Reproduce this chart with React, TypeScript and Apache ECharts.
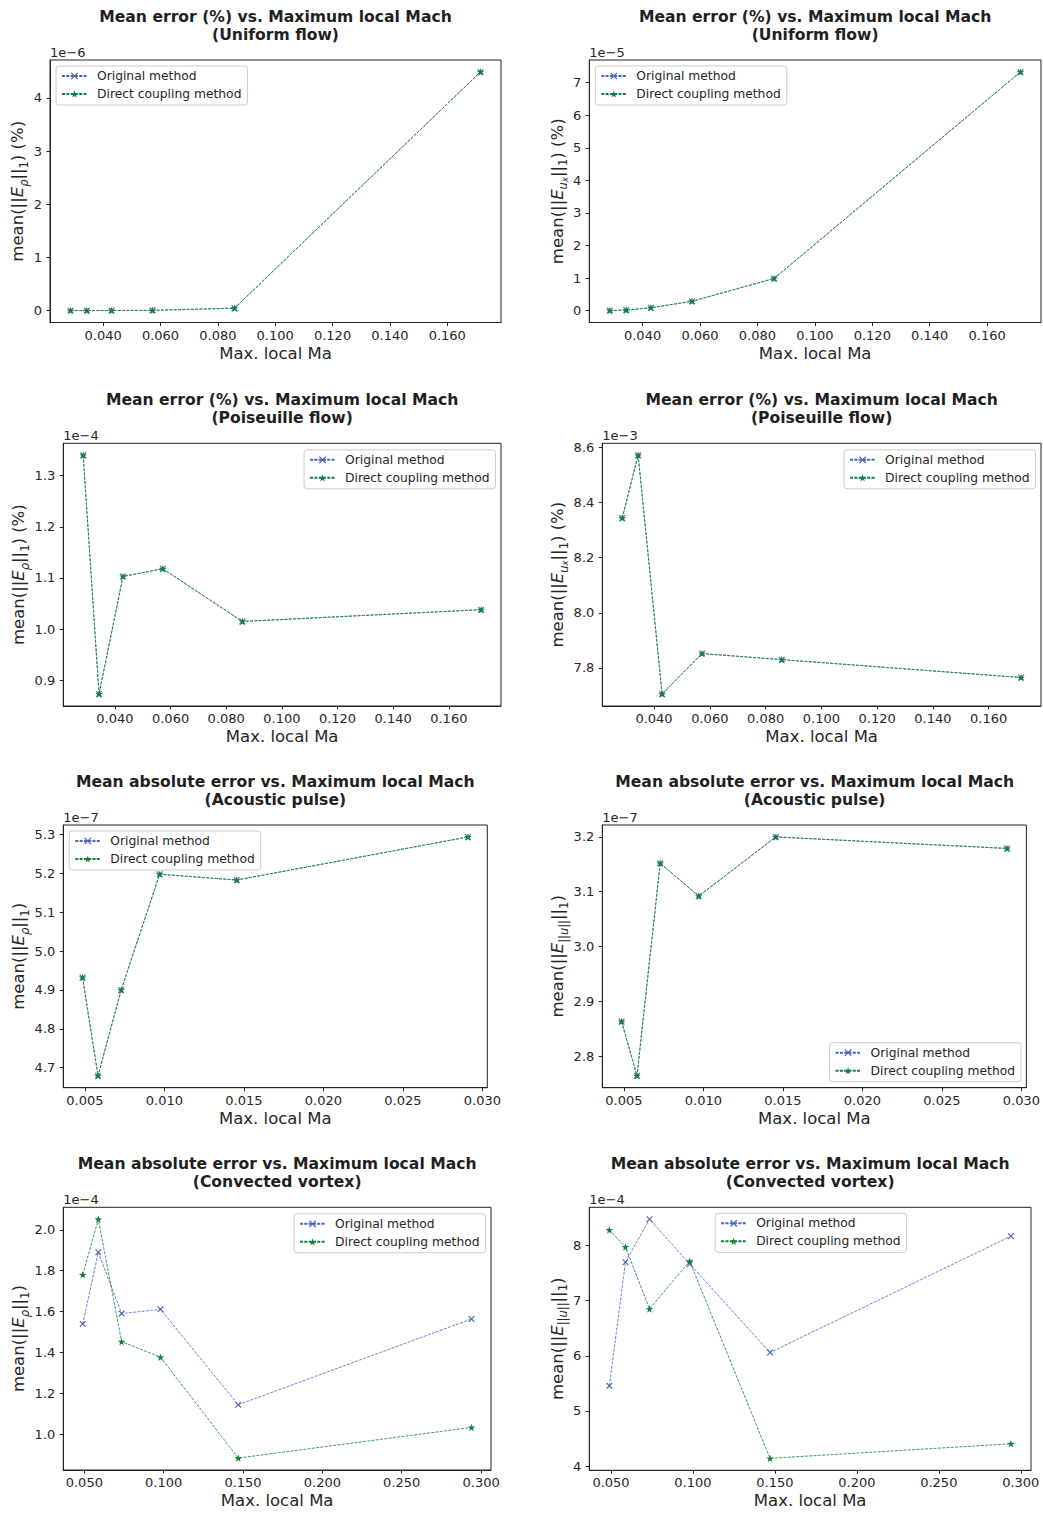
import React, { useEffect, useRef } from "react";
import * as echarts from "echarts";

const W = 1043;
const H = 1513;
const FONT = "DejaVu Sans";
const TEXT = "#262626";
const BLUE = "#4565c0";
const GREEN = "#10803c";

// Maximum local Mach number of every run
const machUniform = [0.0286, 0.0343, 0.0429, 0.0572, 0.0858, 0.1716];
const machPoiseuille = [0.0286, 0.0343, 0.0429, 0.0572, 0.0858, 0.1716];
const machAcoustic = [0.00485, 0.00582, 0.00728, 0.0097, 0.01455, 0.0291];
const machVortex = [0.049, 0.0588, 0.0735, 0.098, 0.147, 0.294];

// Mean errors, stored as mantissas of the axis offset (1e<exponent>)
const uniformRhoOriginal = [0.0002, 0.0005, 0.0012, 0.004, 0.045, 4.49];
const uniformRhoDirect = [0.0002, 0.0005, 0.0012, 0.004, 0.045, 4.49];
const uniformUxOriginal = [0.005, 0.02, 0.09, 0.29, 0.99, 7.33];
const uniformUxDirect = [0.005, 0.02, 0.09, 0.29, 0.99, 7.33];
const poiseuilleRhoOriginal = [1.34, 0.873, 1.103, 1.118, 1.015, 1.038];
const poiseuilleRhoDirect = [1.34, 0.873, 1.103, 1.118, 1.015, 1.038];
const poiseuilleUxOriginal = [8.344, 8.572, 7.705, 7.852, 7.83, 7.765];
const poiseuilleUxDirect = [8.344, 8.572, 7.705, 7.852, 7.83, 7.765];
const acousticRhoOriginal = [4.932, 4.679, 4.9, 5.198, 5.183, 5.294];
const acousticRhoDirect = [4.932, 4.679, 4.9, 5.198, 5.183, 5.294];
const acousticUOriginal = [2.863, 2.764, 3.152, 3.092, 3.2, 3.179];
const acousticUDirect = [2.863, 2.764, 3.152, 3.092, 3.2, 3.179];
const vortexRhoOriginal = [1.539, 1.89, 1.59, 1.611, 1.144, 1.564];
const vortexRhoDirect = [1.78, 2.052, 1.453, 1.377, 0.883, 1.033];
const vortexUOriginal = [5.455, 7.697, 8.477, 7.667, 6.06, 8.169];
const vortexUDirect = [8.283, 7.975, 6.851, 7.715, 4.14, 4.404];

// Tick labels
const machTicksLow = [0.04, 0.06, 0.08, 0.1, 0.12, 0.14, 0.16];
const machTicksAcoustic = [0.005, 0.01, 0.015, 0.02, 0.025, 0.03];
const machTicksVortex = [0.05, 0.1, 0.15, 0.2, 0.25, 0.3];
const uniformRhoTicks = [0, 1, 2, 3, 4];
const uniformUxTicks = [0, 1, 2, 3, 4, 5, 6, 7];
const poiseuilleRhoTicks = [0.9, 1.0, 1.1, 1.2, 1.3];
const poiseuilleUxTicks = [7.8, 8.0, 8.2, 8.4, 8.6];
const acousticRhoTicks = [4.7, 4.8, 4.9, 5.0, 5.1, 5.2, 5.3];
const acousticUTicks = [2.8, 2.9, 3.0, 3.1, 3.2];
const vortexRhoTicks = [1.0, 1.2, 1.4, 1.6, 1.8, 2.0];
const vortexUTicks = [4, 5, 6, 7, 8];

const seriesNames = ["Original method", "Direct coupling method"];

const TITLE_PCT = "Mean error (%) vs. Maximum local Mach";
const TITLE_ABS = "Mean absolute error vs. Maximum local Mach";

// y-axis labels as rich text (mathtext-like subscripts)
const NAME_RHO_PCT = "{n|mean(||}{e|E}{si|ρ}{n|||}{s|1}{n|) (%)}";
const NAME_UX_PCT = "{n|mean(||}{e|E}{si|u}{ss|x}{n|||}{s|1}{n|) (%)}";
const NAME_RHO = "{n|mean(||}{e|E}{si|ρ}{n|||}{s|1}{n|)}";
const NAME_U = "{n|mean(||}{e|E}{s|||}{si|u}{s|||}{n|||}{s|1}{n|)}";

const X_PATH =
  "path://M1.2,0 L5,3.8 L8.8,0 L10,1.2 L6.2,5 L10,8.8 L8.8,10 L5,6.2 L1.2,10 L0,8.8 L3.8,5 L0,1.2 Z";
const STAR_PATH =
  "path://M5,0 L6.18,3.38 L9.76,3.45 L6.9,5.62 L7.94,9.05 L5,7 L2.06,9.05 L3.1,5.62 L0.24,3.45 L3.82,3.38 Z";

type Panel = {
  title: string;
  sub: string;
  mach: number[];
  original: number[];
  direct: number[];
  exponent: number;
  yName: string;
  yTicks: number[];
  yDigits: number;
  xTicks: number[];
  xDigits: number;
  grid: [number, number, number, number];
  legend: "ul" | "ur" | "lr" | "uc";
  col: 0 | 1;
};

const panels: Panel[] = [
  { title: TITLE_PCT, sub: "(Uniform flow)", mach: machUniform, original: uniformRhoOriginal, direct: uniformRhoDirect, exponent: -6, yName: NAME_RHO_PCT, yTicks: uniformRhoTicks, yDigits: 0, xTicks: machTicksLow, xDigits: 3, grid: [50, 60, 451, 262.5], legend: "ul", col: 0 },
  { title: TITLE_PCT, sub: "(Uniform flow)", mach: machUniform, original: uniformUxOriginal, direct: uniformUxDirect, exponent: -5, yName: NAME_UX_PCT, yTicks: uniformUxTicks, yDigits: 0, xTicks: machTicksLow, xDigits: 3, grid: [589.3, 60, 451.7, 262.5], legend: "ul", col: 1 },
  { title: TITLE_PCT, sub: "(Poiseuille flow)", mach: machPoiseuille, original: poiseuilleRhoOriginal, direct: poiseuilleRhoDirect, exponent: -4, yName: NAME_RHO_PCT, yTicks: poiseuilleRhoTicks, yDigits: 1, xTicks: machTicksLow, xDigits: 3, grid: [63.3, 443.3, 437.7, 262.7], legend: "ur", col: 0 },
  { title: TITLE_PCT, sub: "(Poiseuille flow)", mach: machPoiseuille, original: poiseuilleUxOriginal, direct: poiseuilleUxDirect, exponent: -3, yName: NAME_UX_PCT, yTicks: poiseuilleUxTicks, yDigits: 1, xTicks: machTicksLow, xDigits: 3, grid: [602.3, 443.3, 438.7, 262.7], legend: "ur", col: 1 },
  { title: TITLE_ABS, sub: "(Acoustic pulse)", mach: machAcoustic, original: acousticRhoOriginal, direct: acousticRhoDirect, exponent: -7, yName: NAME_RHO, yTicks: acousticRhoTicks, yDigits: 1, xTicks: machTicksAcoustic, xDigits: 3, grid: [63.3, 825, 424, 262.7], legend: "ul", col: 0 },
  { title: TITLE_ABS, sub: "(Acoustic pulse)", mach: machAcoustic, original: acousticUOriginal, direct: acousticUDirect, exponent: -7, yName: NAME_U, yTicks: acousticUTicks, yDigits: 1, xTicks: machTicksAcoustic, xDigits: 3, grid: [602.3, 825, 424.7, 262.7], legend: "lr", col: 1 },
  { title: TITLE_ABS, sub: "(Convected vortex)", mach: machVortex, original: vortexRhoOriginal, direct: vortexRhoDirect, exponent: -4, yName: NAME_RHO, yTicks: vortexRhoTicks, yDigits: 1, xTicks: machTicksVortex, xDigits: 3, grid: [63.3, 1207.3, 427.7, 262.7], legend: "ur", col: 0 },
  { title: TITLE_ABS, sub: "(Convected vortex)", mach: machVortex, original: vortexUOriginal, direct: vortexUDirect, exponent: -4, yName: NAME_U, yTicks: vortexUTicks, yDigits: 0, xTicks: machTicksVortex, xDigits: 3, grid: [589.3, 1207.3, 441.7, 263], legend: "uc", col: 1 },
];

// autoscale with 5% margins on both sides
function padded(values: number[]): [number, number] {
  const lo = Math.min(...values);
  const hi = Math.max(...values);
  const pad = (hi - lo) * 0.05;
  return [lo - pad, hi + pad];
}

const richName = {
  n: { fontFamily: FONT, fontSize: 16.5, color: TEXT, lineHeight: 24 },
  e: { fontFamily: FONT, fontSize: 16.5, fontStyle: "italic", color: TEXT, lineHeight: 24 },
  s: { fontFamily: FONT, fontSize: 11.5, color: TEXT, lineHeight: 13, verticalAlign: "bottom" },
  si: { fontFamily: FONT, fontSize: 11.5, fontStyle: "italic", color: TEXT, lineHeight: 13, verticalAlign: "bottom" },
  ss: { fontFamily: FONT, fontSize: 8.5, fontStyle: "italic", color: TEXT, lineHeight: 8, verticalAlign: "bottom" },
};

function buildOption() {
  const grids: any[] = [];
  const xAxes: any[] = [];
  const yAxes: any[] = [];
  const series: any[] = [];
  const legends: any[] = [];
  const graphics: any[] = [];

  panels.forEach((p, i) => {
    const [left, top, width, height] = p.grid;
    grids.push({ left, top, width, height, show: true, borderColor: "#222", borderWidth: 1, containLabel: false });

    const [xMin, xMax] = padded(p.mach);
    const [yMin, yMax] = padded([...p.original, ...p.direct]);

    xAxes.push({
      type: "value",
      gridIndex: i,
      min: xMin,
      max: xMax,
      splitLine: { show: false },
      axisLine: { show: true, onZero: false, lineStyle: { color: "#222", width: 1 } },
      axisTick: { show: true, inside: false, length: 3.5, lineStyle: { color: "#222" }, customValues: p.xTicks },
      axisLabel: {
        customValues: p.xTicks,
        margin: 6,
        fontFamily: FONT,
        fontSize: 13,
        color: TEXT,
        formatter: (v: number) => v.toFixed(p.xDigits),
      },
      name: "Max. local Ma",
      nameLocation: "middle",
      nameGap: 22,
      nameTextStyle: { fontFamily: FONT, fontSize: 16.5, color: TEXT },
    });

    const nameCenter = p.col === 0 ? 18.5 : 557.5;
    yAxes.push({
      type: "value",
      gridIndex: i,
      min: yMin,
      max: yMax,
      splitLine: { show: false },
      axisLine: { show: true, onZero: false, lineStyle: { color: "#222", width: 1 } },
      axisTick: { show: true, inside: false, length: 3.5, lineStyle: { color: "#222" }, customValues: p.yTicks },
      axisLabel: {
        customValues: p.yTicks,
        margin: 8,
        fontFamily: FONT,
        fontSize: 13,
        color: TEXT,
        formatter: (v: number) => v.toFixed(p.yDigits),
      },
      name: p.yName,
      nameLocation: "middle",
      nameGap: left - nameCenter - 12,
      nameTextStyle: { rich: richName },
    });

    series.push({
      name: seriesNames[0],
      type: "line",
      xAxisIndex: i,
      yAxisIndex: i,
      data: p.mach.map((m, k) => [m, p.original[k]]),
      symbol: X_PATH,
      symbolSize: 6.5,
      color: BLUE,
      lineStyle: { color: BLUE, width: 0.8, type: [3, 1.3] },
      itemStyle: { color: BLUE },
    });
    series.push({
      name: seriesNames[1],
      type: "line",
      xAxisIndex: i,
      yAxisIndex: i,
      data: p.mach.map((m, k) => [m, p.direct[k]]),
      symbol: STAR_PATH,
      symbolSize: 7.5,
      color: GREEN,
      lineStyle: { color: GREEN, width: 0.8, type: [3, 1.3] },
      itemStyle: { color: GREEN },
    });

    const legendW = 190;
    const legend: any = {
      orient: "vertical",
      data: seriesNames,
      selectedMode: false,
      itemWidth: 25,
      itemHeight: 9,
      itemGap: 4,
      padding: [3, 6, 4, 5],
      borderColor: "#cccccc",
      borderWidth: 1,
      borderRadius: 3,
      backgroundColor: "rgba(255,255,255,0.8)",
      textStyle: { fontFamily: FONT, fontSize: 12.3, color: TEXT, lineHeight: 14, padding: [0, 0, 0, 5] },
    };
    if (p.legend === "ul") {
      legend.left = left + 6;
      legend.top = top + 6;
    } else if (p.legend === "ur") {
      legend.right = W - (left + width) + 5.5;
      legend.top = top + 6.5;
    } else if (p.legend === "lr") {
      legend.right = W - (left + width) + 6;
      legend.bottom = H - (top + height) + 6;
    } else {
      legend.left = left + width / 2 - legendW / 2;
      legend.top = top + 6;
    }
    legends.push(legend);

    graphics.push({
      type: "text",
      x: left + width / 2,
      y: top - 52,
      style: {
        text: p.title + "\n" + p.sub,
        align: "center",
        verticalAlign: "top",
        fontFamily: FONT,
        fontSize: 15.6,
        fontWeight: "bold",
        fill: "#1f1f1f",
        lineHeight: 18,
      },
    });
    graphics.push({
      type: "text",
      x: left,
      y: top - 8,
      style: {
        text: "1e\u2212" + String(-p.exponent),
        align: "left",
        verticalAlign: "middle",
        fontFamily: FONT,
        fontSize: 13,
        fill: TEXT,
      },
    });
  });

  return {
    animation: false,
    backgroundColor: "#ffffff",
    textStyle: { fontFamily: FONT },
    grid: grids,
    xAxis: xAxes,
    yAxis: yAxes,
    series,
    legend: legends,
    graphic: graphics,
  };
}

export default function App() {
  const ref = useRef<HTMLDivElement>(null);
  useEffect(() => {
    if (!ref.current) return;
    const chart = echarts.init(ref.current, undefined, { renderer: "svg", width: W, height: H });
    chart.setOption(buildOption() as any);
    return () => chart.dispose();
  }, []);
  return (
    <div
      ref={ref}
      style={{ position: "absolute", left: 0, top: 0, width: W, height: H, background: "#fff" }}
    />
  );
}
